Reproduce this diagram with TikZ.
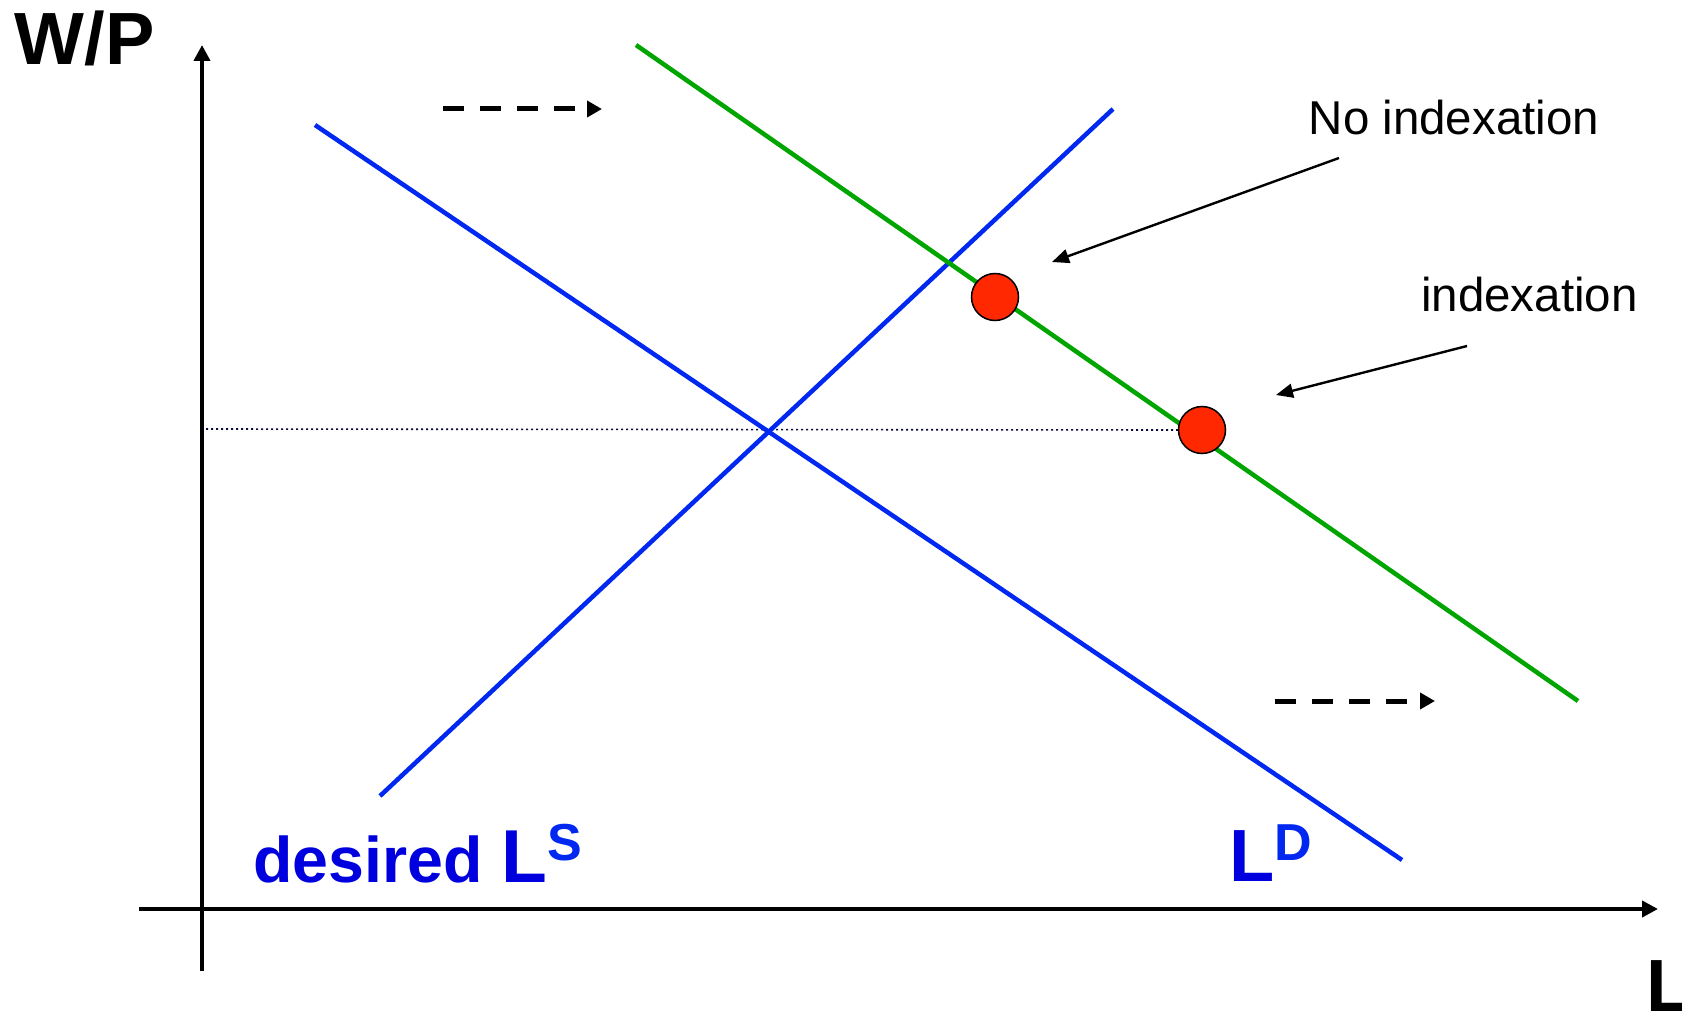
\documentclass[tikz,border=0pt]{standalone}
\usepackage{fontspec}
\setmainfont{Liberation Sans}
\usetikzlibrary{arrows.meta}
\definecolor{lineblue}{RGB}{0,40,240}
\definecolor{textblue}{RGB}{0,0,222}
\definecolor{supblue}{RGB}{0,40,240}
\definecolor{lgreen}{RGB}{0,165,0}
\definecolor{dotred}{RGB}{255,40,0}
\begin{document}
\begin{tikzpicture}[x=1pt,y=-1pt,
  axisline/.style={line width=4.5pt,-{Triangle[length=16pt,width=16pt]}},
  curveline/.style={line width=4.5pt},
  shiftarrow/.style={line width=5pt,dash pattern=on 21pt off 16pt,-{Triangle[length=15pt,width=16pt]}},
  callout/.style={line width=2.4pt,-{Triangle[length=17pt,width=14pt]}},
  eqdot/.style={circle,draw=black,line width=1.5pt,fill=dotred,minimum size=47pt,inner sep=0pt},
  lbl/.style={anchor=base west,inner sep=0pt,text=black},
  big/.style={font=\fontsize{74}{80}\selectfont\bfseries},
  small/.style={font=\fontsize{47.5}{54}\selectfont}]
\useasboundingbox (0,0) rectangle (1682,1011);
% coordinates
\coordinate (ybot) at (202,971);
\coordinate (ytop) at (202,45);
\coordinate (xleft) at (139,909);
\coordinate (xright) at (1658,909);
\coordinate (ld1) at (315,125);
\coordinate (ld2) at (1402,860);
\coordinate (ls1) at (380,796);
\coordinate (ls2) at (1113,109);
\coordinate (g1) at (636,45);
\coordinate (g2) at (1578,701);
\coordinate (dstart) at (206,429);
\coordinate (s1a) at (443,109);
\coordinate (s1b) at (602,109);
\coordinate (s2a) at (1275,701);
\coordinate (s2b) at (1435,701);
\coordinate (c1a) at (1339,158);
\coordinate (c1b) at (1052,262);
\coordinate (c2a) at (1467,346);
\coordinate (c2b) at (1276,395);
% axes
\draw[axisline] (ybot) -- (ytop);
\draw[axisline] (xleft) -- (xright);
% dotted line
\node[eqdot,draw=none,fill=none] (e2pos) at (1202,430) {};
\draw[line width=1.6pt,dash pattern=on 2pt off 3pt,color={rgb,255:red,10;green,10;blue,60}] (dstart) -- (e2pos.west);
% curves
\draw[curveline,lineblue] (ld1) -- (ld2);
\draw[curveline,lineblue] (ls1) -- (ls2);
\draw[curveline,lgreen] (g1) -- (g2);
% equilibrium dots
\node[eqdot] (e1) at (995,297) {};
\node[eqdot] (e2) at (1202,430) {};
% shift arrows
\draw[shiftarrow] (s1a) -- (s1b);
\draw[shiftarrow] (s2a) -- (s2b);
% callouts
\draw[callout] (c1a) -- (c1b);
\draw[callout] (c2a) -- (c2b);
% labels
\node[lbl,big] (wp) at (14.5,65) {W/P};
\node[lbl,big] (lx) at (1646.6,1011) {L};
\node[lbl,small] (noidx) at (1308.5,135) {No indexation};
\node[lbl,small] (idx) at (1421,312) {indexation};
\node[lbl,text=textblue,font=\fontsize{64.5}{70}\selectfont\bfseries] (des) at (253,882) {desired};
\node[lbl,text=textblue,font=\fontsize{75}{80}\selectfont\bfseries] (lsL) at (501.5,882) {L};
\node[lbl,text=supblue,font=\fontsize{52}{58}\selectfont\bfseries] (lsS) at (547,860) {S};
\node[lbl,text=textblue,font=\fontsize{74}{80}\selectfont\bfseries] (ldL) at (1229.5,881) {L};
\node[lbl,text=supblue,font=\fontsize{52}{58}\selectfont\bfseries] (ldD) at (1274,860) {D};
\end{tikzpicture}
\end{document}
